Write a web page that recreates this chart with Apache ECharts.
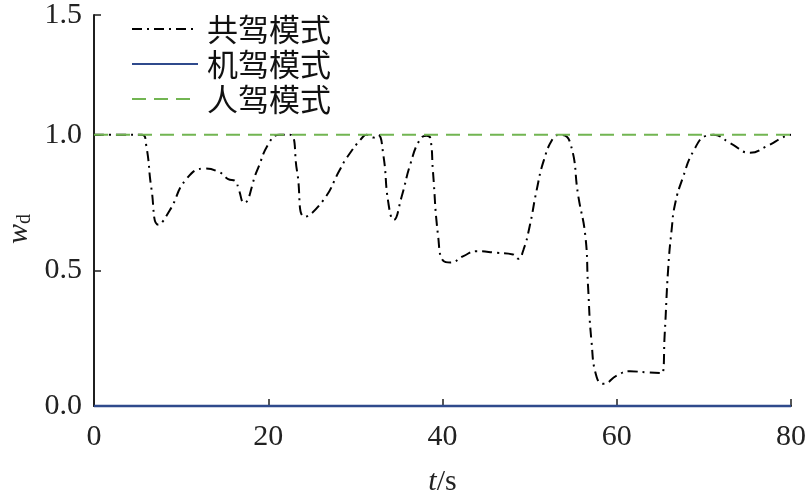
<!DOCTYPE html>
<html>
<head>
<meta charset="utf-8">
<script src="https://cdn.jsdelivr.net/npm/echarts@6/dist/echarts.min.js"></script>
<style>html,body{margin:0;padding:0;background:#fff}#c{width:812px;height:502px}</style>
</head>
<body>
<div id="c"></div>
<script>
// ---- data ----
var seriesNames = ['共驾模式', '机驾模式', '人驾模式'];
var sharedT  = [0, 3, 5.5, 6.0, 6.6, 7.4, 8.7, 10.6, 12.7, 14.4, 15.4, 16.2, 16.6, 17.2, 18.7, 20.2, 21.3, 22.5, 23.3, 24.2, 26.3, 28.2, 29.0, 30.9, 31.3, 32.1, 32.6, 33.2, 33.8, 34.4, 35.3, 36.3, 37.4, 38.2, 38.6, 38.9, 39.5, 40.1, 40.9, 42.4, 43.9, 46.2, 48.1, 48.7, 49.3, 50.0, 50.8, 51.6, 52.7, 53.4, 54.6, 55.6, 56.4, 56.7, 57.1, 57.7, 58.5, 60.0, 61.5, 63.4, 65.2, 65.5, 65.9, 66.3, 66.7, 67.6, 68.8, 70.3, 71.1, 73.0, 75.3, 77.2, 79.5, 80];
var sharedW  = [1.0, 1.0, 1.0, 0.96, 0.80, 0.668, 0.722, 0.837, 0.876, 0.862, 0.837, 0.83, 0.80, 0.749, 0.867, 0.976, 1.0, 1.0, 0.867, 0.698, 0.758, 0.870, 0.915, 0.994, 1.0, 0.99, 1.0, 0.928, 0.746, 0.686, 0.771, 0.891, 0.982, 0.997, 0.988, 0.867, 0.626, 0.535, 0.529, 0.553, 0.571, 0.565, 0.559, 0.543, 0.577, 0.662, 0.795, 0.903, 0.988, 1.0, 0.976, 0.771, 0.626, 0.445, 0.239, 0.106, 0.082, 0.112, 0.128, 0.124, 0.121, 0.263, 0.505, 0.650, 0.746, 0.843, 0.94, 0.997, 1.0, 0.97, 0.934, 0.958, 0.997, 1.0];
var machineT = [0, 80];
var machineW = [0, 0];
var humanT   = [0, 80];
var humanW   = [1, 1];
var xTicks = [0, 20, 40, 60, 80];
var yTickLabels = ['0.0', '0.5', '1.0', '1.5'];

function pairs(t, w) { return t.map(function (v, i) { return [v, w[i]]; }); }

var serif = 'Liberation Serif, Times New Roman, serif';
var cjk = 'Noto Sans CJK SC, sans-serif';
var axisColor = '#1f1f1f';

var chart = echarts.init(document.getElementById('c'), null, {renderer: 'canvas'});
chart.setOption({
  animation: false,
  backgroundColor: '#fff',
  grid: {left: 94, right: 21, top: 8, bottom: 96, containLabel: false},
  legend: {
    orient: 'vertical', left: 131, top: 13, padding: 0,
    itemWidth: 66, itemHeight: 14, itemGap: 3,
    itemStyle: {opacity: 0},
    textStyle: {fontFamily: cjk, fontSize: 31, lineHeight: 32, color: '#111', padding: [0, 0, 0, 4]},
    data: seriesNames
  },
  xAxis: {
    type: 'value', min: xTicks[0], max: xTicks[xTicks.length - 1], interval: xTicks[1] - xTicks[0],
    axisLine: {show: true, lineStyle: {color: axisColor, width: 2}},
    axisTick: {show: true, inside: true, length: 7, lineStyle: {color: axisColor, width: 1.5}},
    axisLabel: {fontFamily: serif, fontSize: 30, color: '#222', margin: 16},
    splitLine: {show: false},
    name: '{i|t}{n|/s}', nameLocation: 'middle', nameGap: 61,
    nameTextStyle: {rich: {
      i: {fontFamily: serif, fontStyle: 'italic', fontSize: 30, color: '#222'},
      n: {fontFamily: serif, fontSize: 30, color: '#222'}
    }}
  },
  yAxis: {
    type: 'value', min: 0, max: 1.442, interval: 0.5,
    axisLine: {show: true, lineStyle: {color: axisColor, width: 2}},
    axisTick: {show: true, inside: true, length: 7, lineStyle: {color: axisColor, width: 1.5}},
    axisLabel: {fontFamily: serif, fontSize: 30, color: '#222', margin: 12,
      formatter: function (v, i) { return yTickLabels[i]; }},
    splitLine: {show: false}
  },
  graphic: [{
    type: 'text', x: 3, y: 244, rotation: Math.PI / 2,
    style: {
      text: '{i|w}{s|d}',
      rich: {
        i: {fontFamily: serif, fontStyle: 'italic', fontSize: 30, fill: '#222'},
        s: {fontFamily: serif, fontSize: 20, fill: '#222', padding: [12, 0, 0, 0]}
      }
    }
  }],
  series: [
    {name: seriesNames[0], type: 'line', data: pairs(sharedT, sharedW), symbol: 'none',
     smooth: 0.5,
     lineStyle: {color: '#000', width: 2, type: [10, 5, 2, 5]}, itemStyle: {color: '#000'}, z: 3},
    {name: seriesNames[1], type: 'line', data: pairs(machineT, machineW), symbol: 'none', clip: false,
     lineStyle: {color: '#2f4a8c', width: 2.5}, itemStyle: {color: '#2f4a8c'}, z: 4},
    {name: seriesNames[2], type: 'line', data: pairs(humanT, humanW), symbol: 'none',
     lineStyle: {color: '#72b552', width: 2, type: [14, 8]}, itemStyle: {color: '#72b552'}, z: 5}
  ]
});
</script>
</body>
</html>
